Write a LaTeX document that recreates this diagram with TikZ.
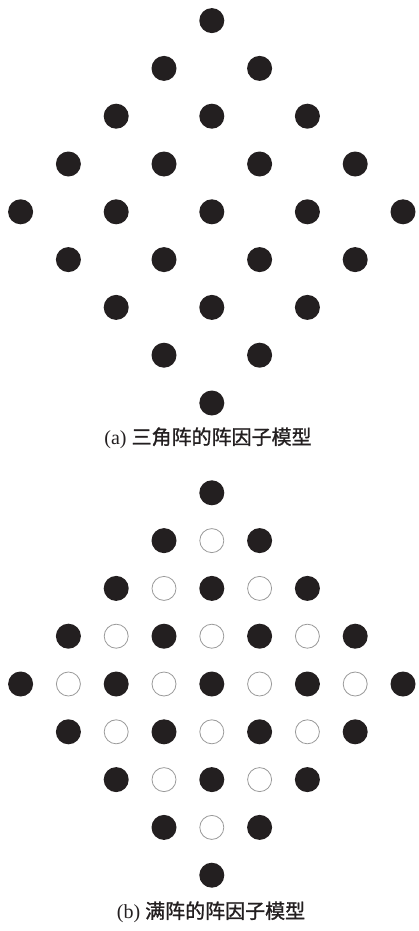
\documentclass[tikz,border=0pt]{standalone}
\usepackage{fontspec}
\setmainfont{Liberation Serif}
\newfontfamily\cjk[FakeBold=1.2]{Noto Sans CJK SC}
\definecolor{dotc}{HTML}{231F20}
\definecolor{ringc}{HTML}{9A9A9A}
\begin{document}
\begin{tikzpicture}[x=1pt,y=-1pt,
  blk/.style={circle,fill=dotc,inner sep=0pt,minimum size=25pt},
  wht/.style={circle,draw=ringc,line width=0.8pt,fill=white,inner sep=0pt,minimum size=24pt},
  captxt/.style={font=\fontsize{20}{23}\selectfont,text=dotc,inner sep=0pt}]
\useasboundingbox (0,0) rectangle (418,931);
% (a) triangular lattice
\foreach \j in {-4,...,4}{
  \pgfmathtruncatemacro\m{4-abs(\j)}
  \pgfmathtruncatemacro\lo{-\m}
  \foreach \i in {\lo,...,\m}{
    \pgfmathtruncatemacro\p{mod(abs(\i+\j),2)}
    \pgfmathtruncatemacro\ii{\i+4}
    \pgfmathtruncatemacro\jj{\j+4}
    \ifnum\p=0
      \node[blk] (a\ii x\jj) at ({211.8+47.8*\i},{211.8+47.8*\j}) {};
    \fi
  }
}
\node[captxt] (capa) at (208,438) {(a) {\cjk 三角阵的阵因子模型}};
% (b) full lattice
\foreach \j in {-4,...,4}{
  \pgfmathtruncatemacro\m{4-abs(\j)}
  \pgfmathtruncatemacro\lo{-\m}
  \foreach \i in {\lo,...,\m}{
    \pgfmathtruncatemacro\p{mod(abs(\i+\j),2)}
    \pgfmathtruncatemacro\ii{\i+4}
    \pgfmathtruncatemacro\jj{\j+4}
    \ifnum\p=0
      \node[blk] (b\ii x\jj) at ({211.8+47.8*\i},{684+47.8*\j}) {};
    \else
      \node[wht] (b\ii x\jj) at ({211.8+47.8*\i},{684+47.8*\j}) {};
    \fi
  }
}
\node[captxt] (capb) at (211,912) {(b) {\cjk 满阵的阵因子模型}};
\end{tikzpicture}
\end{document}
